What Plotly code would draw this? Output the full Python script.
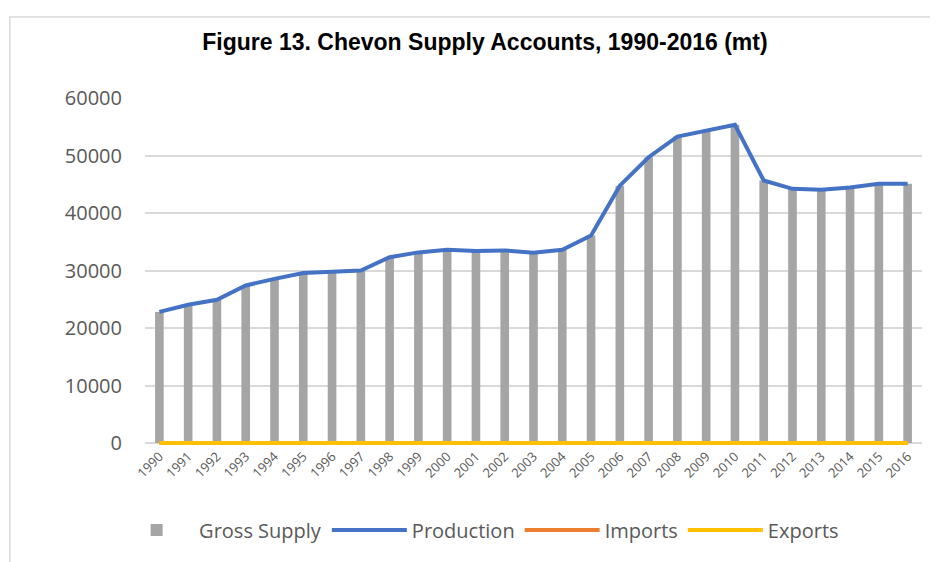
import plotly.graph_objects as go

years = [str(y) for y in range(1990, 2017)]

production = [22800, 24050, 24900, 27400, 28550, 29550, 29800, 30000, 32300, 33150,
              33600, 33400, 33500, 33100, 33600, 36100, 44750, 49700, 53300, 54350,
              55350, 45650, 44200, 44050, 44450, 45100, 45100]
imports = [0, 0, 0, 0, 0, 0, 0, 0, 0, 0,
           0, 0, 0, 0, 0, 0, 0, 0, 0, 0,
           0, 0, 0, 50, 150, 0, 0]
exports = [0] * 27
gross_supply = [p + i - e for p, i, e in zip(production, imports, exports)]

GREY = "#595959"
FONT = "Open Sans, Noto Sans, sans-serif"

fig = go.Figure()

fig.add_trace(go.Bar(
    x=years, y=gross_supply, name="Gross Supply",
    marker_color="#a5a5a5", marker_line_width=0, width=0.3,
))
fig.add_trace(go.Scatter(
    x=years, y=production, name="Production", mode="lines",
    line=dict(color="#4472c4", width=4),
))
fig.add_trace(go.Scatter(
    x=years, y=imports, name="Imports", mode="lines",
    line=dict(color="#ed7d31", width=4),
))
fig.add_trace(go.Scatter(
    x=years, y=exports, name="Exports", mode="lines",
    line=dict(color="#ffc000", width=4),
))

# light chart-area border, as in the spreadsheet export
fig.add_shape(type="rect", xref="paper", yref="paper",
              x0=-0.174, x1=1.3, y0=-2, y1=1.232,
              line=dict(color="#d9d9d9", width=1.5), layer="below")

# a little room under zero so the flat import/export lines are not clipped
fig.update_layout(
    width=938, height=562,
    margin=dict(l=137, r=24, t=90, b=123),
    paper_bgcolor="white", plot_bgcolor="white",
    font=dict(family=FONT, color=GREY),
    title=dict(
        text="<b>Figure 13. Chevon Supply Accounts, 1990-2016 (mt)</b>",
        x=0.5085, xanchor="center", y=0.94, yanchor="middle",
        font=dict(family="Liberation Sans, Arial, sans-serif",
                  size=23, color="black"),
    ),
    bargap=0.7,
    showlegend=True,
    legend=dict(
        orientation="h", x=0.43, xanchor="center", y=-0.238, yanchor="middle",
        font=dict(size=20, color=GREY), itemwidth=75, traceorder="normal",
    ),
    xaxis=dict(
        type="category", tickangle=-45, tickfont=dict(size=13, color=GREY),
        showgrid=False, showline=True, linecolor="#d9d9d9", linewidth=1.5,
        ticks="", automargin=False, layer="below traces",
        anchor="free", position=4 / 349,
    ),
    yaxis=dict(
        range=[-695.6, 60000], tickvals=[0, 10000, 20000, 30000, 40000, 50000, 60000],
        tickformat="d",
        tickfont=dict(size=20, color=GREY),
        gridcolor="#d9d9d9", gridwidth=1.5, zeroline=False,
        showline=False, ticklabelstandoff=22, automargin=False,
        layer="below traces",
    ),
)

fig.write_html("out.html")
